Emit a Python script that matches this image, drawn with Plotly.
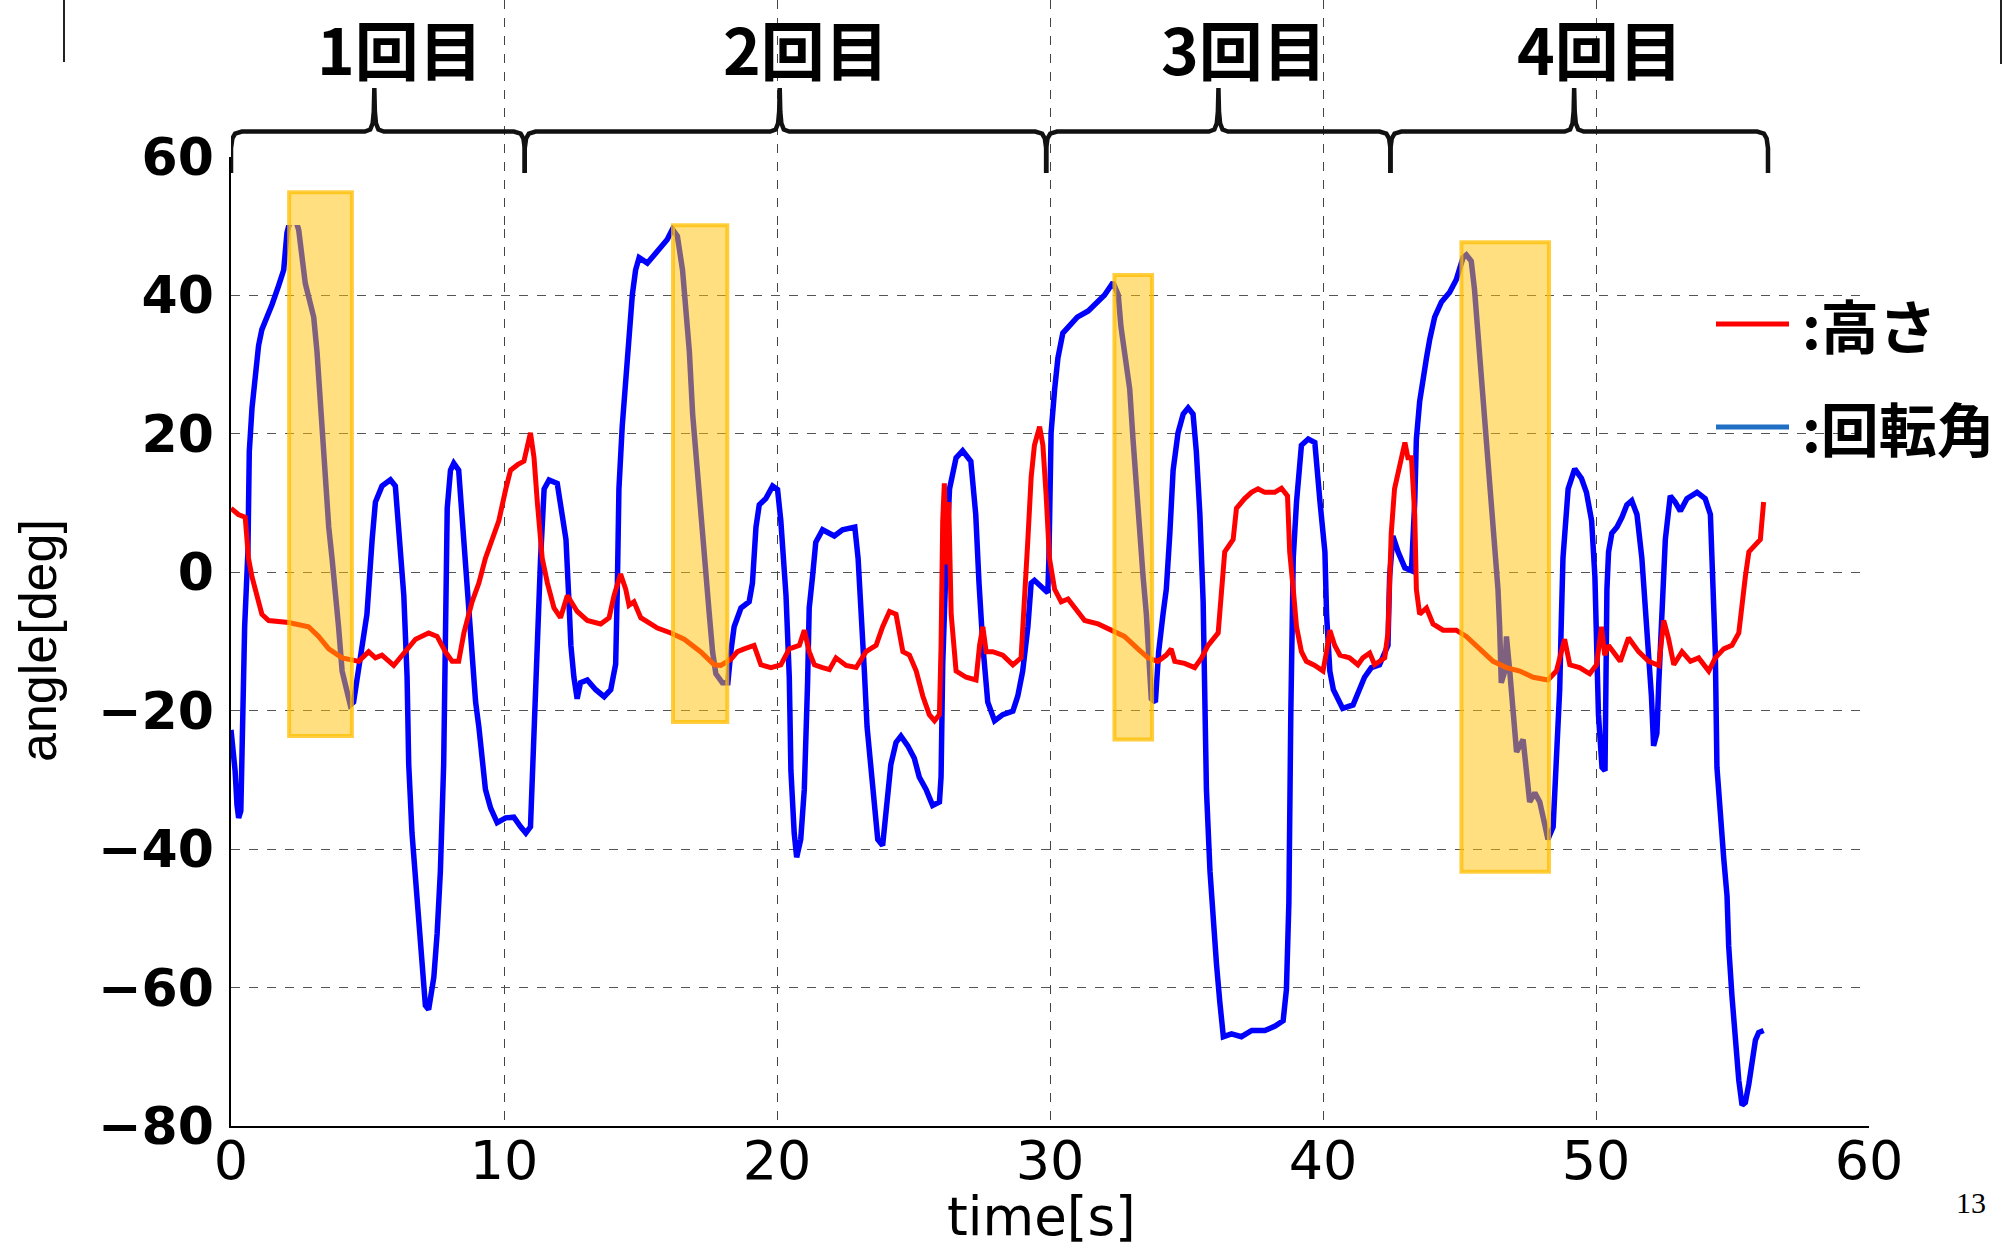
import plotly.graph_objects as go

# ---------------- data ----------------
blue_t = [0.0, 0.15, 0.22, 0.28, 0.36, 0.4, 0.5, 0.62, 0.67, 0.77, 0.89, 1.01, 1.13, 1.32, 1.5, 1.74, 1.93, 2.05, 2.23, 2.29,
          2.48, 2.72, 3.03, 3.15, 3.33, 3.45, 3.58, 3.7, 3.82, 3.94, 4.07, 4.19, 4.37, 4.49, 4.62, 4.74, 4.86, 4.98, 5.17, 5.29,
          5.53, 5.84, 6.02, 6.14, 6.33, 6.45, 6.51, 6.63, 6.76, 6.88, 7.06, 7.12, 7.24, 7.43, 7.55, 7.67, 7.79, 7.85, 7.92, 8.04,
          8.16, 8.34, 8.47, 8.59, 8.71, 8.83, 8.96, 9.08, 9.2, 9.32, 9.51, 9.75, 10.06, 10.36, 10.61, 10.8, 10.97, 11.03, 11.1, 11.22,
          11.34, 11.47, 11.65, 11.95, 12.07, 12.27, 12.38, 12.45, 12.56, 12.68, 12.8, 13.05, 13.36, 13.67, 13.91, 14.09, 14.15, 14.21, 14.33, 14.46,
          14.58, 14.7, 14.82, 14.95, 15.25, 15.62, 15.98, 16.17, 16.35, 16.54, 16.66, 16.79, 16.91, 17.09, 17.28, 17.39, 17.52, 17.64, 17.76, 18.0,
          18.2, 18.31, 18.43, 18.68, 18.98, 19.1, 19.23, 19.35, 19.59, 19.84, 20.02, 20.14, 20.33, 20.45, 20.51, 20.63, 20.72, 20.87, 21.0, 21.12,
          21.18, 21.3, 21.42, 21.67, 22.1, 22.4, 22.85, 22.97, 23.1, 23.2, 23.3, 23.45, 23.56, 23.69, 23.87, 24.0, 24.17, 24.36, 24.54, 24.79,
          25.03, 25.21, 25.46, 25.7, 25.95, 26.01, 26.07, 26.2, 26.32, 26.56, 26.8, 27.1, 27.28, 27.4, 27.54, 27.72, 27.97, 28.27, 28.64, 28.82,
          29.0, 29.19, 29.31, 29.43, 29.74, 29.92, 29.96, 30.04, 30.17, 30.29, 30.47, 30.78, 31.0, 31.4, 31.76, 32.0, 32.31, 32.5, 32.6, 32.74,
          32.92, 33.04, 33.16, 33.29, 33.41, 33.53, 33.65, 33.71, 33.86, 33.98, 34.14, 34.26, 34.39, 34.51, 34.69, 34.88, 35.06, 35.24, 35.36, 35.49,
          35.61, 35.67, 35.73, 35.86, 35.98, 36.1, 36.22, 36.35, 36.65, 37.01, 37.39, 37.87, 38.23, 38.54, 38.66, 38.75, 38.82, 38.91, 39.03, 39.21,
          39.46, 39.7, 39.89, 40.07, 40.13, 40.25, 40.38, 40.62, 40.72, 41.1, 41.34, 41.52, 41.77, 42.07, 42.38, 42.44, 42.56, 42.75, 43.0, 43.24,
          43.36, 43.42, 43.54, 43.66, 43.79, 43.91, 44.09, 44.34, 44.64, 44.88, 45.13, 45.25, 45.43, 45.55, 45.67, 45.8, 45.92, 46.04, 46.17, 46.29,
          46.41, 46.47, 46.53, 46.66, 46.72, 46.84, 46.96, 47.09, 47.33, 47.46, 47.57, 47.76, 47.94, 48.12, 48.24, 48.43, 48.55, 48.67, 48.73, 48.79,
          48.98, 49.22, 49.47, 49.65, 49.84, 49.96, 50.03, 50.09, 50.22, 50.33, 50.4, 50.46, 50.58, 50.77, 50.95, 51.13, 51.31, 51.5, 51.68, 51.8,
          51.93, 52.03, 52.11, 52.23, 52.3, 52.42, 52.54, 52.72, 52.9, 53.09, 53.33, 53.7, 54.0, 54.19, 54.25, 54.37, 54.43, 54.56, 54.68, 54.8,
          54.86, 54.98, 55.11, 55.23, 55.35, 55.47, 55.6, 55.72, 55.84, 55.96, 56.14]
blue_v = [-22.8, -28.7, -33.7, -35.5, -34.5, -28, -7.9, 3, 17.4, 23.7, 28.2, 32.7, 35, 36.8, 38.6, 41.3, 43.6, 49, 51.7, 51.8,
          49.4, 41.7, 36.8, 31.8, 21, 12, 6.5, 2, -2.5, -7.9, -14.3, -16, -19.2, -18.8, -15.2, -11.5, -8.8, -6.1, 4.7, 10.1,
          12.4, 13.3, 12.4, 6.5, -3.4, -15.2, -27.8, -37.7, -44, -52.2, -59.4, -62.6, -63.2, -58.5, -52.2, -43.2, -27.8, -6.1, 9.2, 14.7,
          15.7, 14.7, 7.4, 1.1, -4.3, -13.3, -18.8, -22.4, -26.9, -31.4, -34.1, -36.2, -35.5, -35.4, -36.8, -37.7, -36.8, -30.5, -20.6, -11.5,
          2, 12, 13.3, 12.8, 10.1, 4.7, -4.3, -10.6, -15.2, -18.3, -16, -15.6, -17, -18, -17, -13.3, -2.5, 12, 21, 28.2,
          34.5, 40, 43.6, 45.4, 44.6, 46.3, 48, 49.5, 48.5, 43.6, 38.1, 31.8, 22.8, 13.7, 5.6, -0.7, -6.1, -11.5, -14.7, -16,
          -16, -11.5, -7.9, -5.2, -4.3, -1.6, 6.5, 9.7, 10.6, 12.4, 11.9, 7.4, -3.4, -15.2, -28.7, -37.7, -41.2, -38.6, -31.4, -16,
          -5.2, -0.7, 4.3, 6.1, 5.2, 6.1, 6.5, 2, -6.1, -14.3, -22.4, -28.7, -35, -38.6, -39.5, -34.1, -27.8, -24.6, -23.7, -25.1,
          -26.9, -29.6, -31.4, -33.7, -33.2, -29.6, -13.4, 2, 12, 16.5, 17.5, 16, 8.3, -1.6, -10.6, -18.8, -21.5, -20.6, -20.1, -17.9,
          -14.3, -7.9, -1.6, -1.2, -2.5, -3, 2, 20.1, 26.4, 30.9, 34.5, 35.9, 36.8, 37.7, 39, 40, 41.8, 40, 35.4, 31.8,
          26.4, 19.2, 12, 4.7, -0.7, -6.1, -14.3, -18.3, -18.8, -11.5, -6.1, -2.5, 5.6, 14.7, 20.1, 22.8, 23.7, 22.8, 17.4, 8.3,
          -4.3, -18.8, -31.4, -43.2, -51.2, -56.7, -62.1, -67.1, -66.7, -67.1, -66.2, -66.2, -65.6, -64.8, -60.3, -47.7, -20.6, 2, 10.1, 18.3,
          19.2, 18.7, 10.1, 2.9, -6.1, -14.3, -17, -19.2, -19.7, -19.2, -17, -15.2, -13.8, -13.4, -10.6, -0.7, 5.2, 2.9, 0.6, 0.2,
          10.1, 19.2, 24.6, 28.2, 30.9, 33.6, 36.8, 39, 40.4, 42.2, 45.4, 45.8, 44.9, 40.8, 34.5, 29.1, 23.7, 17.4, 10.1, 3.8,
          -2.5, -7.9, -16, -14.3, -9.3, -14.3, -20.6, -26, -24.2, -28.7, -33.2, -31.9, -33.2, -36.4, -38.6, -36.8, -26, -17, -7, 2,
          12, 14.9, 13.5, 11.5, 7.4, -0.7, -11.5, -20.6, -28.2, -28.7, -2.5, 2.9, 5.6, 6.5, 7.9, 9.7, 10.3, 8.3, 2, -4.3,
          -11.5, -17.9, -25.1, -23.3, -16, -3.4, 4.7, 11, 10.1, 8.8, 10.6, 11.5, 10.6, 8.3, 1.1, -11.5, -28.2, -36.8, -41.4, -46.8,
          -54, -61.2, -68.4, -73.4, -77, -76.6, -73.9, -70.3, -67.6, -66.5, -66.2]

red_t = [0.0, 0.27, 0.52, 0.64, 0.77, 0.95, 1.13, 1.38, 2.11, 2.84, 3.21, 3.58, 4.07, 4.68, 5.04, 5.29, 5.53, 5.96, 6.39, 6.76,
         7.24, 7.55, 7.85, 8.1, 8.34, 8.53, 8.83, 9.08, 9.32, 9.57, 9.81, 10.06, 10.24, 10.5, 10.73, 10.97, 11.1, 11.22, 11.4, 11.59,
         11.83, 12.07, 12.32, 12.68, 13.05, 13.54, 13.85, 14.03, 14.27, 14.46, 14.58, 14.76, 15.01, 15.62, 16.11, 16.6, 17.2, 17.7, 17.94, 18.31,
         18.55, 18.8, 19.16, 19.41, 19.78, 20.14, 20.45, 20.82, 21.0, 21.18, 21.37, 21.67, 21.92, 22.16, 22.53, 22.9, 23.26, 23.63, 23.87, 24.12,
         24.36, 24.61, 24.85, 25.1, 25.34, 25.58, 25.77, 25.95, 26.01, 26.07, 26.13, 26.2, 26.29, 26.38, 26.56, 26.93, 27.29, 27.42, 27.54, 27.66,
         27.9, 28.27, 28.64, 28.94, 29.07, 29.19, 29.31, 29.43, 29.62, 29.74, 29.86, 29.98, 30.17, 30.41, 30.66, 30.9, 31.27, 31.76, 32.25, 32.73,
         33.22, 33.59, 33.95, 34.26, 34.44, 34.57, 34.93, 35.3, 35.55, 35.79, 36.16, 36.28, 36.4, 36.71, 36.83, 37.13, 37.38, 37.62, 37.87, 38.23,
         38.48, 38.7, 38.78, 38.91, 39.03, 39.21, 39.39, 39.7, 40.0, 40.13, 40.25, 40.43, 40.62, 40.97, 41.28, 41.46, 41.71, 41.89, 42.26, 42.38,
         42.44, 42.5, 42.62, 42.87, 43.0, 43.11, 43.24, 43.36, 43.42, 43.54, 43.79, 44.03, 44.4, 44.88, 45.25, 45.74, 46.23, 46.72, 47.21, 47.7,
         48.24, 48.55, 48.73, 48.85, 49.04, 49.4, 49.77, 50.02, 50.2, 50.32, 50.46, 50.64, 50.89, 51.19, 51.56, 51.93, 52.3, 52.48, 52.66, 52.85,
         53.15, 53.46, 53.76, 54.13, 54.37, 54.68, 54.98, 55.23, 55.35, 55.47, 55.6, 55.84, 56.02, 56.14]
red_v = [9.2, 8.3, 7.9, 2, -0.7, -3.4, -6.1, -7, -7.3, -7.9, -9.3, -11.1, -12.4, -12.9, -11.5, -12.4, -12, -13.5, -11.5, -9.7,
         -8.8, -9.3, -11.5, -12.9, -12.9, -8.8, -4.3, -1.6, 2, 4.7, 7.4, 11.9, 14.7, 15.5, 16, 20.1, 16.5, 10.1, 2, -1.6,
         -5.2, -6.6, -3.4, -5.7, -7, -7.5, -6.6, -3.4, -0.3, -2.5, -4.8, -4.3, -6.6, -8.1, -8.8, -9.7, -11.5, -13.4, -13.5, -12.6,
         -11.5, -11.1, -10.6, -13.4, -13.8, -13.4, -11.1, -10.6, -8.4, -11.5, -13.4, -13.8, -14.1, -12.4, -13.5, -13.8, -11.5, -10.6, -7.9, -5.7,
         -6.1, -11.5, -12, -14.3, -17.9, -20.6, -21.5, -20.6, -10.6, 7.4, 12.8, 1.1, 10.1, -6.1, -14.3, -15.2, -15.6, -10.6, -7.9, -11.5,
         -11.5, -12, -13.4, -12.4, -1.6, 4.7, 13.7, 18.3, 21, 18.3, 11, 2, -2.5, -4.3, -3.9, -5.2, -7, -7.5, -8.4, -9.3,
         -11.1, -12.4, -12.9, -12, -11.1, -12.9, -13.2, -13.8, -12.4, -10.6, -8.8, -1.6, 2.9, 4.7, 9.2, 10.6, 11.5, 12, 11.5, 11.5,
         12.1, 11, 2.9, -2.5, -7.9, -11.5, -12.9, -13.5, -14.3, -11.5, -8.4, -10.6, -12, -12.4, -13.4, -12.4, -11.7, -13.4, -12.4, -8.8,
         -0.7, 5.6, 12, 16.5, 18.7, 16.5, 16.5, 8.3, -2.5, -6.1, -5.2, -7.5, -8.4, -8.4, -9.3, -11.1, -12.9, -13.8, -14.3, -15.2,
         -15.6, -14.3, -11.5, -9.7, -13.4, -13.8, -14.7, -13.4, -7.9, -12, -10.6, -11.5, -12.9, -9.5, -11.5, -12.9, -13.5, -7, -9.7, -13.4,
         -11.5, -12.9, -12.4, -14.3, -12.4, -11.1, -10.6, -8.8, -4.3, -0.7, 2.9, 3.8, 4.7, 10.1]

# highlighted (falling) intervals
hl_start = [2.13, 16.19, 32.36, 45.07]
hl_end = [4.43, 18.18, 33.74, 48.28]
hl_top = [54.85, 50.06, 42.9, 47.6]
hl_bottom = [-23.7, -21.66, -24.2, -43.3]

# trial brackets (1回目..4回目)
trial_labels = ["1回目", "2回目", "3回目", "4回目"]
trial_start = [0.0, 10.76, 29.86, 42.47]
trial_end = [10.76, 29.86, 42.47, 56.3]
trial_tip = [5.25, 20.1, 36.17, 49.2]

x_ticks = [0, 10, 20, 30, 40, 50, 60]
y_ticks = [-80, -60, -40, -20, 0, 20, 40, 60]
x_range = [0, 60]
y_range = [-80, 60]

legend_names = [":高さ", ":回転角"]
legend_colors = ["#ff0000", "#1f6fc5"]

# ---------------- layout geometry ----------------
W, H = 2011, 1249
L, R, T, B = 231, 142, 0, 123
plot_h = H - T - B            # 1126
plot_top_px = 156.5           # pixel row of y = 60
dm = (plot_h - plot_top_px) / plot_h
ppu = (plot_h * dm) / (y_range[1] - y_range[0])
d0 = (plot_h - 225) / plot_h
y2_lo = y_range[1] - (dm - d0) * plot_h / ppu
y2_hi = y_range[1] + (1 - dm) * plot_h / ppu

def px_x(px):
    return (px - L) / (W - L - R)

def px_y(py):
    return (plot_h - py) / plot_h

fig = go.Figure()

fig.add_trace(go.Scatter(x=blue_t, y=blue_v, mode="lines", line=dict(color="#0000ff", width=5.5),
                         showlegend=False, hoverinfo="skip"))
fig.add_trace(go.Scatter(x=red_t, y=red_v, mode="lines", line=dict(color="#ff0000", width=5),
                         showlegend=False, hoverinfo="skip"))

# braces above the plot (in an upper, invisible y axis on the same scale)
bar_y, tip_y, end_y = 63.6, 69.9, 57.6
for a, b, t in zip(trial_start, trial_end, trial_tip):
    bx = [a, a, a + 0.05, a + 0.15, a + 0.4,
          t - 0.35, t - 0.15, t - 0.06, t - 0.02, t, t + 0.02, t + 0.06, t + 0.15, t + 0.35,
          b - 0.4, b - 0.15, b - 0.05, b, b]
    by = [end_y, 61.2, 62.6, 63.3, bar_y,
          bar_y, 63.9, 64.8, 66.5, tip_y, 66.5, 64.8, 63.9, bar_y,
          bar_y, 63.3, 62.6, 61.2, end_y]
    fig.add_trace(go.Scatter(x=bx, y=by, xaxis="x", yaxis="y2", mode="lines",
                             line=dict(color="#111111", width=4.5), showlegend=False, hoverinfo="skip"))

shapes = []
for s, e, top, bot in zip(hl_start, hl_end, hl_top, hl_bottom):
    shapes.append(dict(type="rect", xref="x", yref="y", x0=s, x1=e, y0=bot, y1=top,
                       fillcolor="rgba(255,192,0,0.5)", line=dict(color="rgba(255,190,0,0.75)", width=4),
                       layer="above"))

leg_y_px = [324, 427]
for name, col, py in zip(legend_names, legend_colors, leg_y_px):
    shapes.append(dict(type="line", xref="paper", yref="paper", x0=px_x(1716), x1=px_x(1789),
                       y0=px_y(py), y1=px_y(py), line=dict(color=col, width=5)))

# slide border artifacts
shapes.append(dict(type="line", xref="paper", yref="paper", x0=px_x(64), x1=px_x(64), y0=px_y(0), y1=px_y(62),
                   line=dict(color="#222", width=2)))
shapes.append(dict(type="line", xref="paper", yref="paper", x0=px_x(2001), x1=px_x(2001), y0=px_y(0), y1=px_y(64),
                   line=dict(color="#222", width=2)))

annotations = []
for lab, t in zip(trial_labels, trial_tip):
    annotations.append(dict(text=lab, x=t, xref="x", y=px_y(47), yref="paper", xshift=26,
                            showarrow=False, xanchor="center", yanchor="middle",
                            font=dict(family="Noto Sans CJK JP", size=64, color="#000", weight="bold")))
for name, py in zip(legend_names, leg_y_px):
    annotations.append(dict(text=name, x=px_x(1800), xref="paper", y=px_y(py), yref="paper",
                            showarrow=False, xanchor="left", yanchor="middle",
                            font=dict(family="Noto Sans CJK JP", size=58, color="#000", weight="bold")))
annotations.append(dict(text="angle[deg]", x=px_x(38), xref="paper", y=px_y(641), yref="paper",
                        textangle=-90, showarrow=False, xanchor="center", yanchor="middle",
                        font=dict(family="Liberation Sans", size=52, color="#000")))
annotations.append(dict(text="time[s]", x=px_x(1041), xref="paper", y=px_y(1216), yref="paper",
                        showarrow=False, xanchor="center", yanchor="middle",
                        font=dict(family="DejaVu Sans", size=53, color="#000")))
annotations.append(dict(text="13", x=px_x(1971), xref="paper", y=px_y(1202), yref="paper",
                        showarrow=False, xanchor="center", yanchor="middle",
                        font=dict(family="Liberation Serif", size=30, color="#000")))

fig.update_layout(
    template="none",
    width=W, height=H,
    margin=dict(l=L, r=R, t=T, b=B, pad=0, autoexpand=False),
    paper_bgcolor="white", plot_bgcolor="white",
    showlegend=False,
    shapes=shapes, annotations=annotations,
    xaxis=dict(range=x_range, tickvals=x_ticks, ticktext=[str(v) for v in x_ticks],
               showgrid=True, gridcolor="#444", griddash="dash", gridwidth=1,
               showline=True, linecolor="#000", linewidth=1.5, zeroline=False,
               ticks="", ticklabelstandoff=-14, automargin=False,
               tickfont=dict(family="DejaVu Sans", size=54, color="#000"), anchor="y"),
    yaxis=dict(range=y_range, domain=[0, dm], tickvals=y_ticks,
               showgrid=True, gridcolor="#555", griddash="dash", gridwidth=1,
               showline=True, linecolor="#000", linewidth=1.5, zeroline=False,
               ticks="", ticklabelstandoff=5, automargin=False,
               tickfont=dict(family="DejaVu Sans", size=52, color="#000", weight="bold"), anchor="x"),
    yaxis2=dict(range=[y2_lo, y2_hi], domain=[d0, 1], visible=False, anchor="x",
                showgrid=False, zeroline=False, automargin=False),
)

fig.write_html("out.html")
